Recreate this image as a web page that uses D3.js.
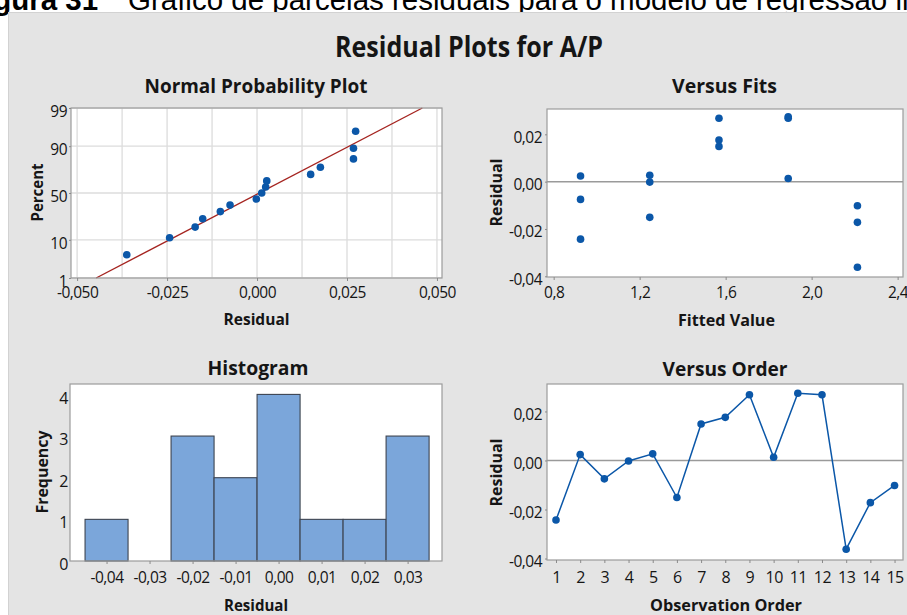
<!DOCTYPE html>
<html>
<head>
<meta charset="utf-8">
<script src="https://cdn.jsdelivr.net/npm/d3@7"></script>
<style>
  html, body { margin: 0; padding: 0; background: #ffffff; }
  svg { display: block; font-family: "Open Sans", "DejaVu Sans", sans-serif; }
</style>
</head>
<body>
<svg id="chart" width="907" height="615"></svg>
<script>
// ---- Residuals of the A/P regression, in observation order ----
const observations = [1, 2, 3, 4, 5, 6, 7, 8, 9, 10, 11, 12, 13, 14, 15];
const residuals = [-0.0243, 0.0024, -0.0075, -0.0002, 0.0027, -0.0151, 0.0149, 0.0176,
                   0.0268, 0.0013, 0.0274, 0.0268, -0.0362, -0.0172, -0.0102];
const fittedValues = [0.925, 0.925, 0.925, 1.247, 1.247, 1.247, 1.569, 1.569, 1.569,
                      1.891, 1.891, 1.891, 2.213, 2.213, 2.213];

// ---- Tick labels ----
const percentTicks = [1, 10, 50, 90, 99];
const npResidualTicks = [-0.05, -0.025, 0, 0.025, 0.05];
const fitTicks = [0.8, 1.2, 1.6, 2.0, 2.4];
const residualTicks = [-0.04, -0.02, 0, 0.02];
const histBinCenters = [-0.04, -0.03, -0.02, -0.01, 0, 0.01, 0.02, 0.03];
const frequencyTicks = [0, 1, 2, 3, 4];

const BLUE = "#0b57a8";
const BAR = "#7ba6da";
const INK = "#151515";

const locale = d3.formatLocale({ decimal: ",", thousands: ".", grouping: [3], currency: ["", ""], minus: "-" });

// inverse standard normal CDF (Acklam)
function qnorm(p) {
  const a = [-3.969683028665376e+01, 2.209460984245205e+02, -2.759285104469687e+02, 1.383577518672690e+02, -3.066479806614716e+01, 2.506628277459239e+00];
  const b = [-5.447609879822406e+01, 1.615858368580409e+02, -1.556989798598866e+02, 6.680131188771972e+01, -1.328068155288572e+01];
  const c = [-7.784894002430293e-03, -3.223964580411365e-01, -2.400758277161838e+00, -2.549732539343734e+00, 4.374664141464968e+00, 2.938163982698783e+00];
  const d = [7.784695709041462e-03, 3.224671290700398e-01, 2.445134137142996e+00, 3.754408661907416e+00];
  const pl = 0.02425;
  if (p < pl) {
    const q = Math.sqrt(-2 * Math.log(p));
    return (((((c[0]*q+c[1])*q+c[2])*q+c[3])*q+c[4])*q+c[5]) / ((((d[0]*q+d[1])*q+d[2])*q+d[3])*q+1);
  }
  if (p <= 1 - pl) {
    const q = p - 0.5, r = q * q;
    return (((((a[0]*r+a[1])*r+a[2])*r+a[3])*r+a[4])*r+a[5])*q / (((((b[0]*r+b[1])*r+b[2])*r+b[3])*r+b[4])*r+1);
  }
  const q = Math.sqrt(-2 * Math.log(1 - p));
  return -(((((c[0]*q+c[1])*q+c[2])*q+c[3])*q+c[4])*q+c[5]) / ((((d[0]*q+d[1])*q+d[2])*q+d[3])*q+1);
}

const svg = d3.select("#chart");

// text helper: optional fitted width for the narrow Minitab lettering
function addText(parent, str, x, y, o) {
  const t = parent.append("text")
    .attr("transform", `translate(${x},${y})` + (o.rotate ? ` rotate(${o.rotate})` : ""))
    .attr("text-anchor", o.anchor || "middle")
    .attr("font-size", o.size)
    .attr("font-weight", o.weight || "normal")
    .attr("fill", INK)
    .text(str);
  if (o.width) t.attr("textLength", o.width).attr("lengthAdjust", "spacingAndGlyphs");
  return t;
}

// ---- document caption above the figure ----
const cap = svg.append("text")
  .attr("x", -33).attr("y", 9.5)
  .attr("font-family", "'Liberation Sans', Arial, sans-serif")
  .attr("font-size", 29.5).attr("fill", "#000");
cap.append("tspan").attr("font-weight", "bold").text("Figura 31");
cap.append("tspan").attr("x", 128).text("Gráfico de parcelas residuais para o modelo de regressão linear");

// ---- figure background ----
svg.append("rect").attr("x", 8.5).attr("y", 12.5).attr("width", 910).attr("height", 620)
  .attr("fill", "#e4e4e4").attr("stroke", "#d2d2d2");

addText(svg, "Residual Plots for A/P", 469, 57, { size: 28, weight: "bold", width: 268 });

// ---- panel frame + common pieces ----
function panel(box, title, titleW) {
  const g = svg.append("g");
  g.append("rect").attr("x", box.l).attr("y", box.t)
    .attr("width", box.r - box.l).attr("height", box.b - box.t)
    .attr("fill", "#ffffff");
  addText(svg, title.text, (box.l + box.r) / 2 + (title.dx || 0), title.y, { size: 19.5, weight: "bold", width: titleW });
  return g;
}
function frame(g, box) {
  g.append("rect").attr("x", box.l).attr("y", box.t)
    .attr("width", box.r - box.l).attr("height", box.b - box.t)
    .attr("fill", "none").attr("stroke", "#9c9c9c").attr("stroke-width", 1.2);
}
function styleAxis(ax, o) {
  ax.select(".domain").remove();
  ax.selectAll(".tick line").attr("stroke", "#8a8a8a");
  ax.selectAll(".tick text").attr("fill", INK).attr("font-size", o.size || 15.5)
    .attr("letter-spacing", "-0.5px")
    .attr("font-family", "'Open Sans', sans-serif");
  if (o.bottom) ax.selectAll(".tick text").attr("y", o.bottom).attr("dy", 0);
  if (o.left) ax.selectAll(".tick text").attr("x", o.left).attr("dy", "0.35em")
    .attr("transform", `translate(0,${o.shift || 0})`);
}

// =============== Normal Probability Plot ===============
{
  const box = { l: 71, r: 442, t: 108, b: 278 };
  const g = panel(box, { text: "Normal Probability Plot", y: 93, dx: -0.5 }, 223);
  const x = d3.scaleLinear().domain([-0.0517, 0.0514]).range([box.l, box.r]);
  const y = d3.scaleLinear().domain([qnorm(0.01), qnorm(0.99)]).range([box.b, box.t]);
  const fmt = locale.format(".3f");

  // gridlines
  g.append("g").selectAll("line").data(d3.range(-4, 5).map(k => k * 0.0125))
    .join("line")
    .attr("x1", d => x(d)).attr("x2", d => x(d)).attr("y1", box.t).attr("y2", box.b)
    .attr("stroke", "#dcdcdc").attr("stroke-width", 1.3);
  g.append("g").selectAll("line").data(percentTicks).join("line")
    .attr("x1", box.l).attr("x2", box.r).attr("y1", d => y(qnorm(d / 100))).attr("y2", d => y(qnorm(d / 100)))
    .attr("stroke", "#dcdcdc").attr("stroke-width", 1.3);

  // fitted normal line from sample mean and standard deviation
  const mu = d3.mean(residuals), sd = d3.deviation(residuals);
  const zLo = qnorm(0.01), zHi = qnorm(0.99);
  g.append("line")
    .attr("x1", x(mu + sd * zLo)).attr("y1", y(zLo))
    .attr("x2", x(mu + sd * zHi)).attr("y2", y(zHi))
    .attr("stroke", "#a52420").attr("stroke-width", 1.4);

  // ordered residuals at median-rank percentiles
  const sorted = residuals.slice().sort(d3.ascending);
  const n = sorted.length;
  g.append("g").selectAll("circle").data(sorted).join("circle")
    .attr("cx", d => x(d))
    .attr("cy", (d, i) => y(qnorm((i + 1 - 0.3) / (n + 0.4))))
    .attr("r", 3.8).attr("fill", BLUE);

  frame(g, box);
  const ax = svg.append("g").attr("transform", `translate(0,${box.b})`)
    .call(d3.axisBottom(x).tickValues(npResidualTicks).tickFormat(fmt).tickSize(3));
  styleAxis(ax, { bottom: 19.5 });
  const ay = svg.append("g").attr("transform", `translate(${box.l},0)`)
    .call(d3.axisLeft(d3.scaleLinear().domain(y.domain()).range(y.range()))
      .tickValues(percentTicks.map(p => qnorm(p / 100)))
      .tickFormat((d, i) => String(percentTicks[i])).tickSize(2));
  styleAxis(ay, { left: -4, shift: 3 });

  addText(svg, "Residual", 256.5, 325, { size: 16, weight: "bold", width: 66 });
  addText(svg, "Percent", 43, 192.5, { size: 16, weight: "bold", width: 58, rotate: -90 });
}

// =============== Versus Fits ===============
{
  const box = { l: 547, r: 903, t: 109, b: 277 };
  const g = panel(box, { text: "Versus Fits", y: 93, dx: -0.5 }, 105);
  const x = d3.scaleLinear().domain([0.769, 2.425]).range([box.l, box.r]);
  const y = d3.scaleLinear().domain([-0.0403, 0.0307]).range([box.b, box.t]);

  g.append("line").attr("x1", box.l).attr("x2", box.r).attr("y1", y(0)).attr("y2", y(0))
    .attr("stroke", "#9a9a9a").attr("stroke-width", 1.5);
  g.append("g").selectAll("circle").data(residuals).join("circle")
    .attr("cx", (d, i) => x(fittedValues[i])).attr("cy", d => y(d))
    .attr("r", 3.8).attr("fill", BLUE);

  frame(g, box);
  const ax = svg.append("g").attr("transform", `translate(0,${box.b})`)
    .call(d3.axisBottom(x).tickValues(fitTicks).tickFormat(locale.format(".1f")).tickSize(3));
  styleAxis(ax, { bottom: 20.5 });
  const ay = svg.append("g").attr("transform", `translate(${box.l},0)`)
    .call(d3.axisLeft(y).tickValues(residualTicks).tickFormat(locale.format(".2f")).tickSize(2));
  styleAxis(ay, { left: -5, shift: 2.5 });

  addText(svg, "Fitted Value", 726.5, 325.5, { size: 16, weight: "bold", width: 97 });
  addText(svg, "Residual", 502, 192.5, { size: 16, weight: "bold", width: 68, rotate: -90 });
}

// =============== Histogram ===============
{
  const box = { l: 70, r: 442, t: 384, b: 561 };
  const g = panel(box, { text: "Histogram", y: 375, dx: 2 }, 101);
  const x = d3.scaleLinear().domain([-0.0485, 0.038]).range([box.l, box.r]);
  const y = d3.scaleLinear().domain([0, 4.25]).range([box.b, box.t]);

  const bins = d3.bin()
    .domain([-0.045, 0.035])
    .thresholds(histBinCenters.slice(1).map(c => Math.round((c - 0.005) * 1000) / 1000))(residuals);

  g.append("g").selectAll("rect").data(bins.filter(b => b.length > 0)).join("rect")
    .attr("x", b => x(b.x0)).attr("width", b => x(b.x1) - x(b.x0))
    .attr("y", b => y(b.length)).attr("height", b => y(0) - y(b.length))
    .attr("fill", BAR).attr("stroke", "#3d4450").attr("stroke-width", 1.1);

  frame(g, box);
  const ax = svg.append("g").attr("transform", `translate(0,${box.b})`)
    .call(d3.axisBottom(x).tickValues(histBinCenters).tickFormat(locale.format(".2f")).tickSize(3));
  styleAxis(ax, { bottom: 22 });
  const ay = svg.append("g").attr("transform", `translate(${box.l},0)`)
    .call(d3.axisLeft(y).tickValues(frequencyTicks).tickFormat(d3.format("d")).tickSize(0));
  styleAxis(ay, { left: -2, shift: 3, size: 16 });

  addText(svg, "Residual", 256, 610.5, { size: 16, weight: "bold", width: 64 });
  addText(svg, "Frequency", 48, 472, { size: 16, weight: "bold", width: 83, rotate: -90 });
}

// =============== Versus Order ===============
{
  const box = { l: 547, r: 903, t: 384, b: 560 };
  const g = panel(box, { text: "Versus Order", y: 376, dx: 0 }, 125);
  const x = d3.scaleLinear().domain([0.628, 15.35]).range([box.l, box.r]);
  const y = d3.scaleLinear().domain([-0.0406, 0.0312]).range([box.b, box.t]);

  g.append("line").attr("x1", box.l).attr("x2", box.r).attr("y1", y(0)).attr("y2", y(0))
    .attr("stroke", "#9a9a9a").attr("stroke-width", 1.5);
  g.append("path").datum(residuals)
    .attr("d", d3.line().x((d, i) => x(observations[i])).y(d => y(d)))
    .attr("fill", "none").attr("stroke", BLUE).attr("stroke-width", 1.5);
  g.append("g").selectAll("circle").data(residuals).join("circle")
    .attr("cx", (d, i) => x(observations[i])).attr("cy", d => y(d))
    .attr("r", 3.8).attr("fill", BLUE);

  frame(g, box);
  const ax = svg.append("g").attr("transform", `translate(0,${box.b})`)
    .call(d3.axisBottom(x).tickValues(observations).tickFormat(d3.format("d")).tickSize(3));
  styleAxis(ax, { bottom: 23, size: 16 });
  const ay = svg.append("g").attr("transform", `translate(${box.l},0)`)
    .call(d3.axisLeft(y).tickValues(residualTicks).tickFormat(locale.format(".2f")).tickSize(2));
  styleAxis(ay, { left: -5, shift: 2.5 });

  addText(svg, "Observation Order", 726, 610.5, { size: 16, weight: "bold", width: 152 });
  addText(svg, "Residual", 502, 472.5, { size: 16, weight: "bold", width: 68, rotate: -90 });
}
</script>
</body>
</html>
